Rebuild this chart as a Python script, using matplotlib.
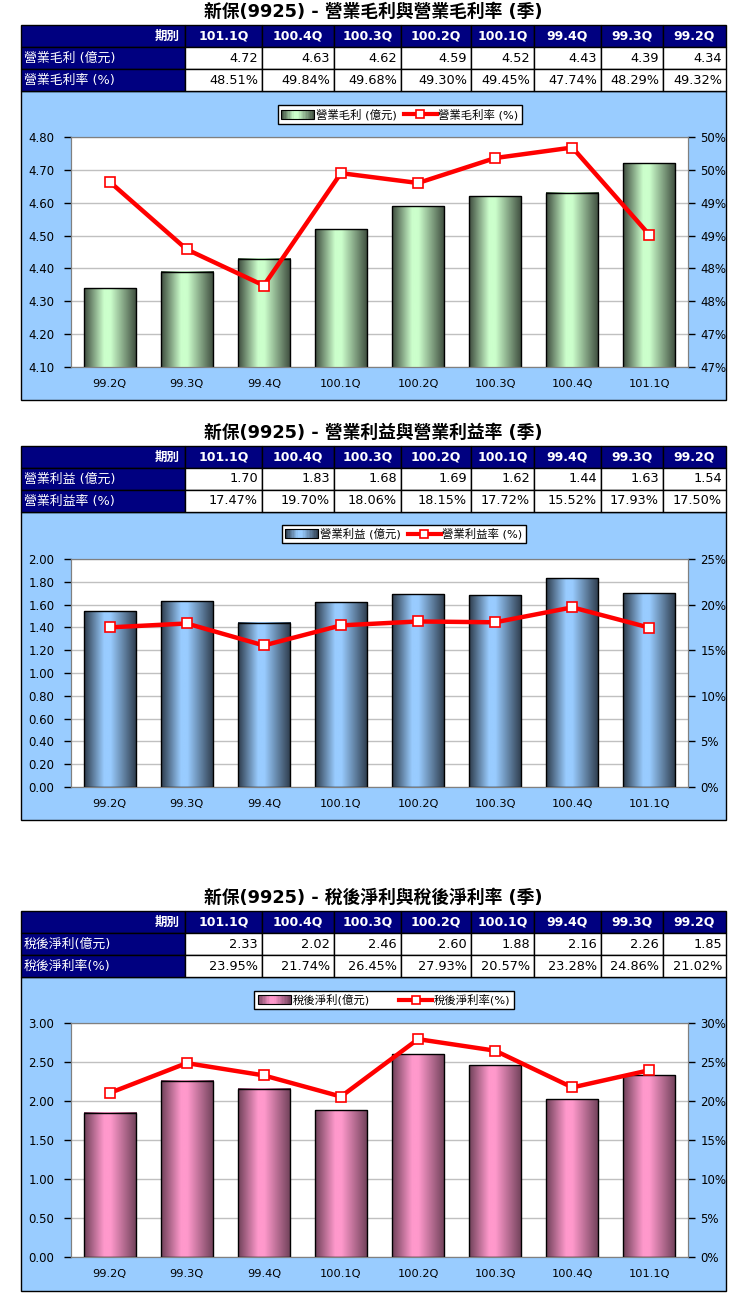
import matplotlib
matplotlib.use("Agg")
import matplotlib.pyplot as plt
import numpy as np
from matplotlib.colors import LinearSegmentedColormap
from matplotlib.patches import Rectangle
from matplotlib.lines import Line2D
from matplotlib.legend_handler import HandlerBase
from matplotlib.ticker import FixedLocator, FuncFormatter

plt.rcParams["font.family"] = ["DejaVu Sans", "Noto Sans CJK TC"]

# ── data (table order: newest first) ───────────────────────────
periods = ["101.1Q", "100.4Q", "100.3Q", "100.2Q", "100.1Q", "99.4Q", "99.3Q", "99.2Q"]

gross_profit = [4.72, 4.63, 4.62, 4.59, 4.52, 4.43, 4.39, 4.34]
gross_margin = [48.51, 49.84, 49.68, 49.30, 49.45, 47.74, 48.29, 49.32]

op_profit = [1.70, 1.83, 1.68, 1.69, 1.62, 1.44, 1.63, 1.54]
op_margin = [17.47, 19.70, 18.06, 18.15, 17.72, 15.52, 17.93, 17.50]

net_profit = [2.33, 2.02, 2.46, 2.60, 1.88, 2.16, 2.26, 1.85]
net_margin = [23.95, 21.74, 26.45, 27.93, 20.57, 23.28, 24.86, 21.02]

W, H = 748, 1308
COL_EDGES = [21, 185, 262, 334, 401, 471, 534, 601, 663, 726]
NAVY = "#000080"
PANEL = "#99ccff"


class GradientHandler(HandlerBase):
    """legend swatch painted as a cylinder gradient"""
    def __init__(self, cmap):
        super().__init__()
        self.cmap = cmap

    def create_artists(self, legend, orig_handle, xdescent, ydescent,
                       width, height, fontsize, trans):
        n = 24
        arts = []
        for i in range(n):
            arts.append(Rectangle((-xdescent + width * i / n, -ydescent),
                                  width / n + 0.2, height,
                                  facecolor=self.cmap((i + 0.5) / n),
                                  edgecolor="none", transform=trans))
        arts.append(Rectangle((-xdescent, -ydescent), width, height,
                              fill=False, edgecolor="black", lw=0.8,
                              transform=trans))
        return arts


def cyl_cmap(dark, light):
    return LinearSegmentedColormap.from_list(
        "cyl", [(0, dark), (0.38, light), (0.5, light), (1, dark)])


def half_up_pct(v, pos=None):
    # Excel-style rounding: 46.5 -> 47%
    return f"{int(np.floor(v + 0.5 + 1e-9))}%"


def draw_section(fig, bg, title, y_title, y_table, row_labels, vals, rates,
                 panel_bot, plot_top, plot_bot, leg_center, leg_gap,
                 cmap, ylim, ystep, rlim, rstep):
    bg.text(373, y_title, title, ha="center", va="center", fontsize=12.8,
            fontweight="bold", color="black")

    # table
    row_h = [22, 22, 22]
    y = y_table
    rows = [["期別"] + periods,
            [row_labels[0]] + [f"{v:.2f}" for v in vals],
            [row_labels[1]] + [f"{v:.2f}%" for v in rates]]
    for r, cells in enumerate(rows):
        for c, txt in enumerate(cells):
            x0, x1 = COL_EDGES[c], COL_EDGES[c + 1]
            navy = (r == 0) or (c == 0)
            bg.add_patch(Rectangle((x0, y), x1 - x0, row_h[r],
                                   facecolor=NAVY if navy else "white",
                                   edgecolor="black", lw=1))
            yc = y + row_h[r] / 2
            if r == 0:
                if c == 0:
                    bg.text(x1 - 5, yc, txt, ha="right", va="center",
                            color="white", fontsize=9, fontweight="bold")
                else:
                    bg.text((x0 + x1) / 2, yc, txt, ha="center", va="center",
                            color="white", fontsize=9, fontweight="bold")
            elif c == 0:
                bg.text(x0 + 3, yc, txt, ha="left", va="center",
                        color="white", fontsize=9.3)
            else:
                bg.text(x1 - 4, yc, txt, ha="right", va="center",
                        color="black", fontsize=9.3)
        y += row_h[r]

    # light blue chart panel
    bg.add_patch(Rectangle((COL_EDGES[0], y), COL_EDGES[-1] - COL_EDGES[0],
                           panel_bot - y, facecolor=PANEL, edgecolor="black",
                           lw=1, zorder=0))

    x_px0, x_px1 = 71, 688
    ax = fig.add_axes([x_px0 / W, 1 - plot_bot / H, (x_px1 - x_px0) / W,
                       (plot_bot - plot_top) / H])
    ax.set_facecolor("white")
    cats = periods[::-1]
    bar_vals = vals[::-1]
    line_vals = rates[::-1]
    x = np.arange(len(cats))
    bars = ax.bar(x, bar_vals, width=0.675, color="none", edgecolor="black",
                  lw=1.0, zorder=3)
    grad = np.linspace(0, 1, 256).reshape(1, -1)
    for rect in bars:
        x0 = rect.get_x()
        ax.imshow(grad, extent=[x0, x0 + rect.get_width(), rect.get_y(),
                                rect.get_y() + rect.get_height()],
                  aspect="auto", cmap=cmap, interpolation="bicubic",
                  zorder=2.5)
    ax.set_xlim(-0.5, len(cats) - 0.5)
    ax.set_ylim(*ylim)
    ax.yaxis.set_major_locator(FixedLocator(np.arange(ylim[0], ylim[1] + 1e-9, ystep)))
    ax.yaxis.set_major_formatter(FuncFormatter(lambda v, p: f"{v:.2f}"))
    ax.set_xticks(x)
    ax.set_xticklabels(cats)
    ax.grid(axis="y", color="#c0c0c0", lw=1)
    ax.set_axisbelow(True)
    for s in ax.spines.values():
        s.set_color("#808080")
    ax.tick_params(axis="x", length=0, pad=9, labelsize=8.2)
    ax.tick_params(axis="y", length=5, width=1, color="black", pad=7,
                   labelsize=8.5)

    ax2 = ax.twinx()
    ax2.plot(x, line_vals, color="#ff0000", lw=3.2, marker="s", ms=6.5,
             mfc="white", mec="#ff0000", mew=1.2, zorder=5)
    ax2.set_ylim(*rlim)
    ax2.yaxis.set_major_locator(FixedLocator(np.arange(rlim[0], rlim[1] + 1e-9, rstep)))
    ax2.yaxis.set_major_formatter(FuncFormatter(half_up_pct))
    for s in ax2.spines.values():
        s.set_color("#808080")
    ax2.tick_params(axis="y", length=5, width=1, color="black", pad=4,
                    labelsize=8.5)

    proxy = Rectangle((0, 0), 1, 1)
    line_h = Line2D([], [], color="#ff0000", lw=3, marker="s", ms=6,
                    mfc="white", mec="#ff0000", mew=1.2)
    leg = ax2.legend([proxy, line_h], row_labels,
                     handler_map={proxy: GradientHandler(cmap)},
                     loc="center", ncol=2,
                     bbox_to_anchor=(leg_center[0] / W, 1 - leg_center[1] / H),
                     bbox_transform=fig.transFigure, fontsize=8.2,
                     frameon=True, fancybox=False, framealpha=1,
                     edgecolor="black", borderpad=0.3, handlelength=2.9,
                     handleheight=0.8, handletextpad=0.15,
                     columnspacing=leg_gap, borderaxespad=0)
    leg.get_frame().set_linewidth(1)


fig = plt.figure(figsize=(W / 100, H / 100), dpi=100)
fig.patch.set_facecolor("white")
bg = fig.add_axes([0, 0, 1, 1])
bg.set_xlim(0, W)
bg.set_ylim(H, 0)
bg.axis("off")

draw_section(fig, bg, "新保(9925) - 營業毛利與營業毛利率 (季)", 12, 25,
             ["營業毛利 (億元)", "營業毛利率 (%)"], gross_profit, gross_margin,
             400, 137, 367, (400, 114.5), 0.6,
             cyl_cmap("#3c4a3c", "#ccffcc"), (4.10, 4.80), 0.10,
             (46.5, 50.0), 0.5)

draw_section(fig, bg, "新保(9925) - 營業利益與營業利益率 (季)", 433, 446,
             ["營業利益 (億元)", "營業利益率 (%)"], op_profit, op_margin,
             820, 559, 787, (404, 534), 0.6,
             cyl_cmap("#2c3a4a", "#99ccff"), (0.0, 2.0), 0.20,
             (0, 25), 5)

draw_section(fig, bg, "新保(9925) - 稅後淨利與稅後淨利率 (季)", 898, 911,
             ["稅後淨利(億元)", "稅後淨利率(%)"], net_profit, net_margin,
             1291, 1023, 1257, (384, 1000), 2.6,
             cyl_cmap("#6e4058", "#ff99cc"), (0.0, 3.0), 0.50,
             (0, 30), 5)

fig.savefig("out.png", dpi=100, facecolor="white")
